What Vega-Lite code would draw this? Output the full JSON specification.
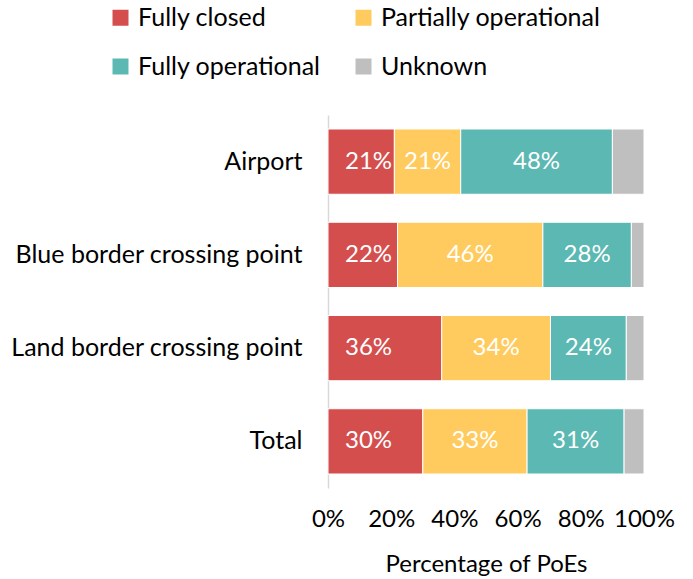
{
  "$schema": "https://vega.github.io/schema/vega-lite/v6.json",
  "width": 316,
  "height": 373,
  "autosize": "none",
  "padding": {"left": 328, "top": 115, "right": 49, "bottom": 91},
  "background": "white",
  "config": {
    "font": "Lato",
    "view": {"stroke": null}
  },
  "data": {
    "values": [
      {"type": "Airport", "status": "Fully closed", "order": 1, "value": 0.21},
      {"type": "Airport", "status": "Partially operational", "order": 2, "value": 0.21},
      {"type": "Airport", "status": "Fully operational", "order": 3, "value": 0.48},
      {"type": "Airport", "status": "Unknown", "order": 4, "value": 0.10},
      {"type": "Blue border crossing point", "status": "Fully closed", "order": 1, "value": 0.22},
      {"type": "Blue border crossing point", "status": "Partially operational", "order": 2, "value": 0.46},
      {"type": "Blue border crossing point", "status": "Fully operational", "order": 3, "value": 0.28},
      {"type": "Blue border crossing point", "status": "Unknown", "order": 4, "value": 0.04},
      {"type": "Land border crossing point", "status": "Fully closed", "order": 1, "value": 0.36},
      {"type": "Land border crossing point", "status": "Partially operational", "order": 2, "value": 0.344},
      {"type": "Land border crossing point", "status": "Fully operational", "order": 3, "value": 0.24},
      {"type": "Land border crossing point", "status": "Unknown", "order": 4, "value": 0.056},
      {"type": "Total", "status": "Fully closed", "order": 1, "value": 0.30},
      {"type": "Total", "status": "Partially operational", "order": 2, "value": 0.33},
      {"type": "Total", "status": "Fully operational", "order": 3, "value": 0.307},
      {"type": "Total", "status": "Unknown", "order": 4, "value": 0.063}
    ]
  },
  "encoding": {
    "y": {
      "field": "type",
      "type": "nominal",
      "sort": ["Airport", "Blue border crossing point", "Land border crossing point", "Total"],
      "scale": {"paddingInner": 0.3, "paddingOuter": 0.15},
      "axis": {
        "title": null,
        "ticks": false,
        "labelFontSize": 25,
        "labelColor": "#000000",
        "labelPadding": 26,
        "domainColor": "#d9d9d9",
        "domainWidth": 1.5,
        "labelLimit": 400
      }
    }
  },
  "layer": [
    {
      "mark": {"type": "bar", "stroke": "white", "strokeWidth": 1},
      "encoding": {
        "x": {
          "field": "value",
          "type": "quantitative",
          "stack": "zero",
          "scale": {"domain": [0, 1], "nice": false},
          "axis": {
            "title": "Percentage of PoEs",
            "titleFontSize": 24,
            "titleFontWeight": "normal",
            "titleColor": "#000000",
            "titlePadding": 21,
            "values": [0, 0.2, 0.4, 0.6, 0.8, 1],
            "format": ".0%",
            "labelFontSize": 24,
            "labelColor": "#000000",
            "labelPadding": 19,
            "labelFlush": false,
            "ticks": false,
            "domain": false,
            "grid": false
          }
        },
        "color": {
          "field": "status",
          "type": "nominal",
          "scale": {
            "domain": ["Fully closed", "Partially operational", "Fully operational", "Unknown"],
            "range": ["#d44e4e", "#ffcb5e", "#5cb8b2", "#bfbfbf"]
          },
          "legend": {
            "title": null,
            "orient": "none",
            "legendX": -220,
            "legendY": -110,
            "columns": 2,
            "direction": "horizontal",
            "symbolType": "square",
            "symbolSize": 256,
            "symbolStrokeWidth": 0,
            "labelFontSize": 25,
            "labelColor": "#000000",
            "labelOffset": 5,
            "columnPadding": 30,
            "rowPadding": 23,
            "labelLimit": 400
          }
        },
        "order": {"field": "order", "type": "quantitative"}
      }
    },
    {
      "mark": {"type": "text", "color": "white", "fontSize": 24, "align": "center", "baseline": "middle"},
      "encoding": {
        "x": {"field": "value", "type": "quantitative", "stack": "zero", "bandPosition": 0.5},
        "text": {"field": "value", "type": "quantitative", "format": ".0%"},
        "order": {"field": "order", "type": "quantitative"},
        "opacity": {
          "condition": {"test": "datum.status === 'Partially operational' || datum.status === 'Fully operational'", "value": 1},
          "value": 0
        }
      }
    },
    {
      "transform": [{"filter": "datum.status === 'Fully closed'"}],
      "mark": {"type": "text", "color": "white", "fontSize": 24, "align": "left", "baseline": "middle", "dx": 17},
      "encoding": {
        "x": {"datum": 0, "type": "quantitative"},
        "text": {"field": "value", "type": "quantitative", "format": ".0%"}
      }
    }
  ]
}
